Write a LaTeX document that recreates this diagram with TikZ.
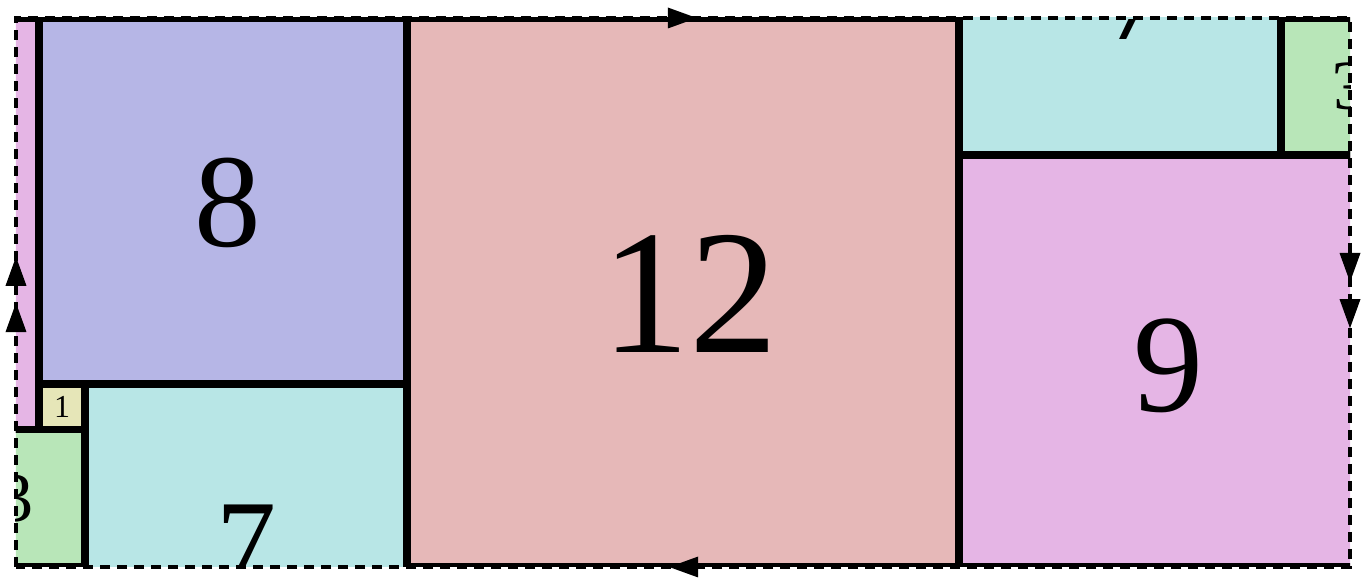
\documentclass[tikz,border=0pt]{standalone}
\usepackage{fontspec}
\setmainfont{Liberation Serif}
\definecolor{cpink}{HTML}{E5B5E5}
\definecolor{cblue}{HTML}{B6B6E6}
\definecolor{cred}{HTML}{E6B8B8}
\definecolor{ccyan}{HTML}{B8E6E6}
\definecolor{cgreen}{HTML}{B8E6B8}
\definecolor{cyellow}{HTML}{E6E6B8}
\begin{document}
\begin{tikzpicture}[x=46pt,y=45.75pt,
  edge/.style={draw=black,line width=7.5pt},
  lbl/.style={inner sep=0pt,text=black},
  seam/.style={draw=black,line width=3.5pt,dash pattern=on 10pt off 7pt},
  tip/.style={fill=black}]
\useasboundingbox (-16pt,-11pt) rectangle (1355pt,567pt);
\begin{scope}
  \clip (0,0) rectangle (29,12);
  % fills
  \fill[cred]    (8.5,0) rectangle (20.5,12);
  \fill[cblue]   (0.5,4) rectangle (8.5,12);
  \fill[cyellow] (0.5,3) rectangle (1.5,4);
  \fill[cgreen]  (-1.5,0) rectangle (1.5,3);
  \fill[cgreen]  (27.5,9) rectangle (30.5,12);
  \fill[ccyan]   (1.5,-3) rectangle (8.5,4);
  \fill[ccyan]   (20.5,9) rectangle (27.5,16);
  \fill[cpink]   (20.5,0) rectangle (29.5,9);
  \fill[cpink]   (-8.5,3) rectangle (0.5,12);
  % borders
  \draw[edge] (8.5,0) rectangle (20.5,12);
  \draw[edge] (0.5,4) rectangle (8.5,12);
  \draw[edge] (0.5,3) rectangle (1.5,4);
  \draw[edge] (-1.5,0) rectangle (1.5,3);
  \draw[edge] (27.5,9) rectangle (30.5,12);
  \draw[edge] (1.5,-3) rectangle (8.5,4);
  \draw[edge] (20.5,9) rectangle (27.5,16);
  \draw[edge] (20.5,0) rectangle (29.5,9);
  \draw[edge] (-8.5,3) rectangle (0.5,12);
  % labels
  \node[lbl,font=\fontsize{177}{177}\selectfont] (l12) at (14.65,5.97) {12};
  \node[lbl,font=\fontsize{133}{133}\selectfont] (l8) at (4.6,7.95) {8};
  \node[lbl,font=\fontsize{140}{140}\selectfont] (l9) at (25.05,4.4) {9};
  \node[lbl,font=\fontsize{32}{32}\selectfont] (l1) at (1,3.5) {1};
  \node[lbl,font=\fontsize{70}{70}\selectfont] (l3) at (0,1.5) {3};
  \node[lbl,font=\fontsize{70}{70}\selectfont,yscale=-1] (l3b) at (29,10.5) {3};
  \node[lbl,font=\fontsize{120}{120}\selectfont] (l7) at (5,0.5) {7};
  \begin{scope}
    \clip (20.5,11.55) rectangle (27.5,12);
    \node[lbl,font=\fontsize{120}{120}\selectfont,rotate=180] (l7b) at (24.0,11.1) {7};
  \end{scope}
\end{scope}
% identified boundary
\draw[seam] (0,0) rectangle (29,12);
% orientation marks
\fill[tip] (0,6.78) -- ++(-10.5pt,-29pt) -- ++(21pt,0pt) -- cycle;
\fill[tip] (0,5.77) -- ++(-10.5pt,-29pt) -- ++(21pt,0pt) -- cycle;
\fill[tip] (29,5.22) -- ++(-10.5pt,29pt) -- ++(21pt,0pt) -- cycle;
\fill[tip] (29,6.23) -- ++(-10.5pt,29pt) -- ++(21pt,0pt) -- cycle;
\fill[tip] (14.8,12) -- ++(-29pt,10.5pt) -- ++(0pt,-21pt) -- cycle;
\fill[tip] (14.2,0) -- ++(29pt,10.5pt) -- ++(0pt,-21pt) -- cycle;
\end{tikzpicture}
\end{document}
